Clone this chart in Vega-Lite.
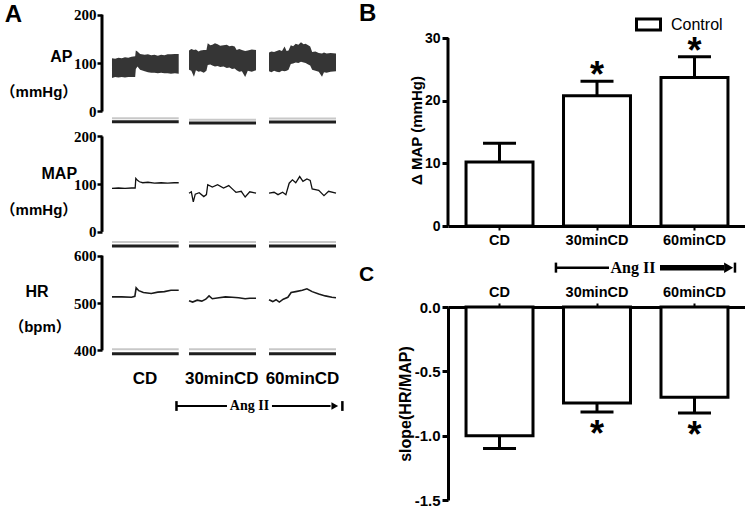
{
  "$schema": "https://vega.github.io/schema/vega-lite/v6.json",
  "background": "white",
  "padding": {"left": 0, "top": 2, "right": 0, "bottom": 0},
  "config": {
    "view": {"stroke": null},
    "font": "Liberation Sans",
    "axis": {"grid": false, "domainColor": "black", "tickColor": "black", "labelColor": "black", "titleColor": "black", "labelFontWeight": "bold", "titleFontWeight": "bold"}
  },
  "datasets": {
    "ap": [
      {"seg": 1, "t": 1.52, "lo": 69, "hi": 110}, {"seg": 1, "t": 2.0, "lo": 71, "hi": 109}, {"seg": 1, "t": 2.5, "lo": 70, "hi": 111}, {"seg": 1, "t": 3.0, "lo": 71, "hi": 110}, {"seg": 1, "t": 3.5, "lo": 70, "hi": 112}, {"seg": 1, "t": 4.0, "lo": 71, "hi": 111}, {"seg": 1, "t": 4.5, "lo": 71, "hi": 113}, {"seg": 1, "t": 5.05, "lo": 71, "hi": 114}, {"seg": 1, "t": 5.15, "lo": 88, "hi": 126}, {"seg": 1, "t": 5.4, "lo": 93, "hi": 124}, {"seg": 1, "t": 5.8, "lo": 86, "hi": 119}, {"seg": 1, "t": 6.5, "lo": 83, "hi": 117}, {"seg": 1, "t": 7.0, "lo": 81, "hi": 118}, {"seg": 1, "t": 7.5, "lo": 80, "hi": 116}, {"seg": 1, "t": 8.0, "lo": 80, "hi": 117}, {"seg": 1, "t": 8.5, "lo": 79, "hi": 115}, {"seg": 1, "t": 9.0, "lo": 80, "hi": 117}, {"seg": 1, "t": 9.5, "lo": 79, "hi": 116}, {"seg": 1, "t": 10.0, "lo": 79, "hi": 118}, {"seg": 1, "t": 10.5, "lo": 78, "hi": 118}, {"seg": 1, "t": 11.1, "lo": 79, "hi": 119}, {"seg": 1, "t": 11.68, "lo": 78, "hi": 119},
      {"seg": 2, "t": 13.25, "lo": 86, "hi": 126}, {"seg": 2, "t": 13.6, "lo": 84, "hi": 129}, {"seg": 2, "t": 14.0, "lo": 72, "hi": 127}, {"seg": 2, "t": 14.3, "lo": 85, "hi": 128}, {"seg": 2, "t": 14.7, "lo": 82, "hi": 124}, {"seg": 2, "t": 15.0, "lo": 83, "hi": 126}, {"seg": 2, "t": 15.5, "lo": 80, "hi": 127}, {"seg": 2, "t": 15.9, "lo": 84, "hi": 127}, {"seg": 2, "t": 16.1, "lo": 96, "hi": 141}, {"seg": 2, "t": 16.5, "lo": 97, "hi": 137}, {"seg": 2, "t": 16.8, "lo": 95, "hi": 138}, {"seg": 2, "t": 17.2, "lo": 93, "hi": 141}, {"seg": 2, "t": 17.6, "lo": 94, "hi": 139}, {"seg": 2, "t": 18.0, "lo": 92, "hi": 136}, {"seg": 2, "t": 18.5, "lo": 93, "hi": 137}, {"seg": 2, "t": 19.0, "lo": 90, "hi": 138}, {"seg": 2, "t": 19.4, "lo": 91, "hi": 135}, {"seg": 2, "t": 19.8, "lo": 88, "hi": 136}, {"seg": 2, "t": 20.2, "lo": 89, "hi": 134}, {"seg": 2, "t": 20.5, "lo": 85, "hi": 127}, {"seg": 2, "t": 20.9, "lo": 82, "hi": 129}, {"seg": 2, "t": 21.3, "lo": 83, "hi": 127}, {"seg": 2, "t": 21.8, "lo": 71, "hi": 125}, {"seg": 2, "t": 22.2, "lo": 84, "hi": 126}, {"seg": 2, "t": 22.8, "lo": 82, "hi": 128}, {"seg": 2, "t": 23.45, "lo": 85, "hi": 127},
      {"seg": 3, "t": 25.43, "lo": 83, "hi": 122}, {"seg": 3, "t": 25.8, "lo": 81, "hi": 124}, {"seg": 3, "t": 26.2, "lo": 84, "hi": 123}, {"seg": 3, "t": 26.6, "lo": 82, "hi": 125}, {"seg": 3, "t": 27.0, "lo": 81, "hi": 127}, {"seg": 3, "t": 27.4, "lo": 84, "hi": 125}, {"seg": 3, "t": 27.8, "lo": 83, "hi": 134}, {"seg": 3, "t": 28.1, "lo": 84, "hi": 125}, {"seg": 3, "t": 28.4, "lo": 86, "hi": 126}, {"seg": 3, "t": 28.75, "lo": 98, "hi": 137}, {"seg": 3, "t": 29.1, "lo": 99, "hi": 135}, {"seg": 3, "t": 29.5, "lo": 101, "hi": 140}, {"seg": 3, "t": 29.9, "lo": 100, "hi": 138}, {"seg": 3, "t": 30.3, "lo": 103, "hi": 143}, {"seg": 3, "t": 30.7, "lo": 101, "hi": 139}, {"seg": 3, "t": 31.0, "lo": 100, "hi": 140}, {"seg": 3, "t": 31.4, "lo": 97, "hi": 137}, {"seg": 3, "t": 31.7, "lo": 95, "hi": 134}, {"seg": 3, "t": 32.0, "lo": 86, "hi": 123}, {"seg": 3, "t": 32.5, "lo": 84, "hi": 124}, {"seg": 3, "t": 33.0, "lo": 82, "hi": 121}, {"seg": 3, "t": 33.5, "lo": 72, "hi": 120}, {"seg": 3, "t": 33.8, "lo": 81, "hi": 122}, {"seg": 3, "t": 34.2, "lo": 80, "hi": 120}, {"seg": 3, "t": 34.8, "lo": 82, "hi": 121}, {"seg": 3, "t": 35.63, "lo": 83, "hi": 120}
    ],
    "map": [
      {"seg": 1, "t": 1.52, "v": 91}, {"seg": 1, "t": 2.5, "v": 92}, {"seg": 1, "t": 3.5, "v": 91}, {"seg": 1, "t": 4.5, "v": 92}, {"seg": 1, "t": 5.05, "v": 92}, {"seg": 1, "t": 5.15, "v": 112}, {"seg": 1, "t": 5.4, "v": 108}, {"seg": 1, "t": 5.7, "v": 105}, {"seg": 1, "t": 6.2, "v": 103}, {"seg": 1, "t": 7.0, "v": 104}, {"seg": 1, "t": 8.0, "v": 102}, {"seg": 1, "t": 9.0, "v": 103}, {"seg": 1, "t": 10.0, "v": 102}, {"seg": 1, "t": 11.0, "v": 103}, {"seg": 1, "t": 11.68, "v": 103},
      {"seg": 2, "t": 13.25, "v": 81}, {"seg": 2, "t": 13.6, "v": 84}, {"seg": 2, "t": 13.9, "v": 63}, {"seg": 2, "t": 14.2, "v": 79}, {"seg": 2, "t": 14.8, "v": 82}, {"seg": 2, "t": 15.5, "v": 74}, {"seg": 2, "t": 15.9, "v": 78}, {"seg": 2, "t": 16.1, "v": 99}, {"seg": 2, "t": 16.8, "v": 94}, {"seg": 2, "t": 17.6, "v": 99}, {"seg": 2, "t": 18.5, "v": 92}, {"seg": 2, "t": 19.3, "v": 97}, {"seg": 2, "t": 20.0, "v": 88}, {"seg": 2, "t": 20.4, "v": 83}, {"seg": 2, "t": 21.2, "v": 85}, {"seg": 2, "t": 21.8, "v": 73}, {"seg": 2, "t": 22.5, "v": 84}, {"seg": 2, "t": 23.45, "v": 81},
      {"seg": 3, "t": 25.43, "v": 81}, {"seg": 3, "t": 26.2, "v": 83}, {"seg": 3, "t": 26.8, "v": 78}, {"seg": 3, "t": 27.5, "v": 83}, {"seg": 3, "t": 28.0, "v": 78}, {"seg": 3, "t": 28.5, "v": 102}, {"seg": 3, "t": 29.0, "v": 109}, {"seg": 3, "t": 29.5, "v": 103}, {"seg": 3, "t": 30.1, "v": 116}, {"seg": 3, "t": 30.6, "v": 106}, {"seg": 3, "t": 31.2, "v": 111}, {"seg": 3, "t": 31.7, "v": 108}, {"seg": 3, "t": 32.0, "v": 90}, {"seg": 3, "t": 33.0, "v": 87}, {"seg": 3, "t": 33.8, "v": 76}, {"seg": 3, "t": 34.5, "v": 85}, {"seg": 3, "t": 35.63, "v": 81}
    ],
    "hr": [
      {"seg": 1, "t": 1.52, "v": 513}, {"seg": 1, "t": 3.0, "v": 513}, {"seg": 1, "t": 4.5, "v": 512}, {"seg": 1, "t": 5.0, "v": 514}, {"seg": 1, "t": 5.2, "v": 532}, {"seg": 1, "t": 5.6, "v": 526}, {"seg": 1, "t": 6.3, "v": 522}, {"seg": 1, "t": 7.5, "v": 520}, {"seg": 1, "t": 8.5, "v": 523}, {"seg": 1, "t": 9.5, "v": 524}, {"seg": 1, "t": 10.5, "v": 527}, {"seg": 1, "t": 11.68, "v": 527},
      {"seg": 2, "t": 13.25, "v": 505}, {"seg": 2, "t": 13.8, "v": 502}, {"seg": 2, "t": 14.5, "v": 506}, {"seg": 2, "t": 15.2, "v": 504}, {"seg": 2, "t": 15.8, "v": 508}, {"seg": 2, "t": 16.3, "v": 515}, {"seg": 2, "t": 16.8, "v": 509}, {"seg": 2, "t": 17.8, "v": 511}, {"seg": 2, "t": 18.8, "v": 513}, {"seg": 2, "t": 19.8, "v": 512}, {"seg": 2, "t": 20.8, "v": 511}, {"seg": 2, "t": 21.8, "v": 509}, {"seg": 2, "t": 22.5, "v": 510}, {"seg": 2, "t": 23.45, "v": 510},
      {"seg": 3, "t": 25.43, "v": 507}, {"seg": 3, "t": 26.0, "v": 503}, {"seg": 3, "t": 26.5, "v": 507}, {"seg": 3, "t": 27.0, "v": 502}, {"seg": 3, "t": 27.6, "v": 508}, {"seg": 3, "t": 28.3, "v": 512}, {"seg": 3, "t": 28.8, "v": 522}, {"seg": 3, "t": 29.5, "v": 524}, {"seg": 3, "t": 30.5, "v": 527}, {"seg": 3, "t": 31.2, "v": 530}, {"seg": 3, "t": 32.0, "v": 524}, {"seg": 3, "t": 33.0, "v": 519}, {"seg": 3, "t": 34.0, "v": 515}, {"seg": 3, "t": 35.0, "v": 512}, {"seg": 3, "t": 35.63, "v": 511}
    ],
    "base": [
      {"panel": "AP", "seg": 1, "t0": 1.52, "t1": 11.68, "level": -14, "kind": "gray"}, {"panel": "AP", "seg": 1, "t0": 1.52, "t1": 11.68, "level": -21, "kind": "black"},
      {"panel": "AP", "seg": 2, "t0": 13.25, "t1": 23.45, "level": -17, "kind": "gray"}, {"panel": "AP", "seg": 2, "t0": 13.25, "t1": 23.45, "level": -24, "kind": "black"},
      {"panel": "AP", "seg": 3, "t0": 25.43, "t1": 35.63, "level": -14.5, "kind": "gray"}, {"panel": "AP", "seg": 3, "t0": 25.43, "t1": 35.63, "level": -21.5, "kind": "black"},
      {"panel": "MAP", "seg": 1, "t0": 1.52, "t1": 11.68, "level": -21.3, "kind": "gray"}, {"panel": "MAP", "seg": 1, "t0": 1.52, "t1": 11.68, "level": -29.7, "kind": "black"},
      {"panel": "MAP", "seg": 2, "t0": 13.25, "t1": 23.45, "level": -21.3, "kind": "gray"}, {"panel": "MAP", "seg": 2, "t0": 13.25, "t1": 23.45, "level": -29.7, "kind": "black"},
      {"panel": "MAP", "seg": 3, "t0": 25.43, "t1": 35.63, "level": -21.3, "kind": "gray"}, {"panel": "MAP", "seg": 3, "t0": 25.43, "t1": 35.63, "level": -29.7, "kind": "black"},
      {"panel": "HR", "seg": 1, "t0": 1.52, "t1": 11.68, "level": 402.5, "kind": "gray"}, {"panel": "HR", "seg": 1, "t0": 1.52, "t1": 11.68, "level": 393, "kind": "black"},
      {"panel": "HR", "seg": 2, "t0": 13.25, "t1": 23.45, "level": 402.5, "kind": "gray"}, {"panel": "HR", "seg": 2, "t0": 13.25, "t1": 23.45, "level": 393, "kind": "black"},
      {"panel": "HR", "seg": 3, "t0": 25.43, "t1": 35.63, "level": 402.5, "kind": "gray"}, {"panel": "HR", "seg": 3, "t0": 25.43, "t1": 35.63, "level": 393, "kind": "black"}
    ],
    "bars": [
      {"cond": "CD", "dmap": 10.2, "dmap_up": 13.2, "dmap_sig": "", "slope": -1.0, "slope_low": -1.1, "slope_sig": ""},
      {"cond": "30minCD", "dmap": 20.8, "dmap_up": 23.1, "dmap_sig": "*", "slope": -0.746, "slope_low": -0.816, "slope_sig": "*"},
      {"cond": "60minCD", "dmap": 23.7, "dmap_up": 27.0, "dmap_sig": "*", "slope": -0.702, "slope_low": -0.824, "slope_sig": "*"}
    ]
  },
  "spacing": 13,
  "resolve": {"scale": {"x": "independent", "y": "independent"}, "legend": {"fill": "independent"}},
  "hconcat": [
    {
      "spacing": 0,
      "bounds": "flush",
      "resolve": {"scale": {"x": "independent", "y": "independent"}},
      "vconcat": [
        {
          "width": 243, "height": 121,
          "layer": [
            {"data": {"name": "ap"}, "mark": {"type": "area", "color": "#353535"},
             "encoding": {
               "x": {"field": "t", "type": "quantitative", "scale": {"domain": [0, 37], "nice": false, "zero": false}, "axis": null},
               "y": {"field": "lo", "type": "quantitative", "scale": {"domain": [-30, 220], "nice": false, "zero": false},
                     "axis": {"values": [0, 100, 200], "domain": false, "tickSize": 5, "tickWidth": 2.5, "labelFont": "Liberation Sans Narrow", "labelFontSize": 15, "labelPadding": 1, "title": null}},
               "y2": {"field": "hi"},
               "detail": {"field": "seg", "type": "nominal"}
             }},
            {"data": {"name": "base"}, "transform": [{"filter": "datum.panel == 'AP' && datum.kind == 'gray'"}], "mark": {"type": "rule", "color": "#c8c8c8", "strokeWidth": 2},
             "encoding": {"x": {"field": "t0", "type": "quantitative"}, "x2": {"field": "t1"}, "y": {"field": "level", "type": "quantitative"}}},
            {"data": {"name": "base"}, "transform": [{"filter": "datum.panel == 'AP' && datum.kind == 'black'"}], "mark": {"type": "rule", "color": "#1e1e1e", "strokeWidth": 3},
             "encoding": {"x": {"field": "t0", "type": "quantitative"}, "x2": {"field": "t1"}, "y": {"field": "level", "type": "quantitative"}}},
            {"data": {"values": [{}]}, "mark": {"type": "rule", "color": "black", "strokeWidth": 3},
             "encoding": {"x": {"datum": 0, "type": "quantitative"}, "y": {"datum": 0, "type": "quantitative"}, "y2": {"datum": 200}}},
            {"data": {"values": [{}]}, "mark": {"type": "text", "text": "A", "fontSize": 24, "fontWeight": "bold", "align": "left", "baseline": "middle", "color": "black"},
             "encoding": {"x": {"datum": -14.8, "type": "quantitative"}, "y": {"datum": 198.5, "type": "quantitative"}}},
            {"data": {"values": [{}]}, "mark": {"type": "text", "text": "AP", "fontSize": 16, "fontWeight": "bold", "align": "center", "baseline": "middle", "color": "black"},
             "encoding": {"x": {"datum": -6.2, "type": "quantitative"}, "y": {"datum": 112.6, "type": "quantitative"}}},
            {"data": {"values": [{}]}, "mark": {"type": "text", "text": "（mmHg）", "font": "Liberation Sans, Noto Sans CJK SC", "fontSize": 15, "fontWeight": "bold", "align": "center", "baseline": "middle", "color": "black"},
             "encoding": {"x": {"datum": -9.6, "type": "quantitative"}, "y": {"datum": 40.2, "type": "quantitative"}}}
          ]
        },
        {
          "width": 243, "height": 123,
          "layer": [
            {"data": {"name": "map"}, "mark": {"type": "line", "color": "#111", "strokeWidth": 1.3},
             "encoding": {
               "x": {"field": "t", "type": "quantitative", "scale": {"domain": [0, 37], "nice": false, "zero": false}, "axis": null},
               "y": {"field": "v", "type": "quantitative", "scale": {"domain": [-36, 222], "nice": false, "zero": false},
                     "axis": {"values": [0, 100, 200], "domain": false, "tickSize": 5, "tickWidth": 2.5, "labelFont": "Liberation Sans Narrow", "labelFontSize": 15, "labelPadding": 1, "title": null}},
               "detail": {"field": "seg", "type": "nominal"}
             }},
            {"data": {"name": "base"}, "transform": [{"filter": "datum.panel == 'MAP' && datum.kind == 'gray'"}], "mark": {"type": "rule", "color": "#c8c8c8", "strokeWidth": 2},
             "encoding": {"x": {"field": "t0", "type": "quantitative"}, "x2": {"field": "t1"}, "y": {"field": "level", "type": "quantitative"}}},
            {"data": {"name": "base"}, "transform": [{"filter": "datum.panel == 'MAP' && datum.kind == 'black'"}], "mark": {"type": "rule", "color": "#1e1e1e", "strokeWidth": 3},
             "encoding": {"x": {"field": "t0", "type": "quantitative"}, "x2": {"field": "t1"}, "y": {"field": "level", "type": "quantitative"}}},
            {"data": {"values": [{}]}, "mark": {"type": "rule", "color": "black", "strokeWidth": 3},
             "encoding": {"x": {"datum": 0, "type": "quantitative"}, "y": {"datum": 0, "type": "quantitative"}, "y2": {"datum": 200}}},
            {"data": {"values": [{}]}, "mark": {"type": "text", "text": "MAP", "fontSize": 16, "fontWeight": "bold", "align": "center", "baseline": "middle", "color": "black"},
             "encoding": {"x": {"datum": -6.5, "type": "quantitative"}, "y": {"datum": 121, "type": "quantitative"}}},
            {"data": {"values": [{}]}, "mark": {"type": "text", "text": "（mmHg）", "font": "Liberation Sans, Noto Sans CJK SC", "fontSize": 15, "fontWeight": "bold", "align": "center", "baseline": "middle", "color": "black"},
             "encoding": {"x": {"datum": -9.6, "type": "quantitative"}, "y": {"datum": 45.8, "type": "quantitative"}}}
          ]
        },
        {
          "width": 243, "height": 108,
          "layer": [
            {"data": {"name": "hr"}, "mark": {"type": "line", "color": "#1a1a1a", "strokeWidth": 1.6},
             "encoding": {
               "x": {"field": "t", "type": "quantitative", "scale": {"domain": [0, 37], "nice": false, "zero": false},
                     "axis": {"values": [6.47, 18.16, 30.45], "labelExpr": "datum.value < 10 ? 'CD' : datum.value < 25 ? '30minCD' : '60minCD'", "domain": false, "ticks": false, "tickSize": 0, "labelPadding": 13, "labelFontSize": 17, "labelFlush": false, "labelOverlap": false, "labelBound": false, "title": null}},
               "y": {"field": "v", "type": "quantitative", "scale": {"domain": [386, 614], "nice": false, "zero": false},
                     "axis": {"values": [400, 500, 600], "domain": false, "tickSize": 5, "tickWidth": 2.5, "labelFont": "Liberation Sans Narrow", "labelFontSize": 15, "labelPadding": 1, "title": null}},
               "detail": {"field": "seg", "type": "nominal"}
             }},
            {"data": {"name": "base"}, "transform": [{"filter": "datum.panel == 'HR' && datum.kind == 'gray'"}], "mark": {"type": "rule", "color": "#c8c8c8", "strokeWidth": 2},
             "encoding": {"x": {"field": "t0", "type": "quantitative"}, "x2": {"field": "t1"}, "y": {"field": "level", "type": "quantitative"}}},
            {"data": {"name": "base"}, "transform": [{"filter": "datum.panel == 'HR' && datum.kind == 'black'"}], "mark": {"type": "rule", "color": "#1e1e1e", "strokeWidth": 3},
             "encoding": {"x": {"field": "t0", "type": "quantitative"}, "x2": {"field": "t1"}, "y": {"field": "level", "type": "quantitative"}}},
            {"data": {"values": [{}]}, "mark": {"type": "rule", "color": "black", "strokeWidth": 3},
             "encoding": {"x": {"datum": 0, "type": "quantitative"}, "y": {"datum": 400, "type": "quantitative"}, "y2": {"datum": 600}}},
            {"data": {"values": [{}]}, "mark": {"type": "text", "text": "HR", "fontSize": 16, "fontWeight": "bold", "align": "center", "baseline": "middle", "color": "black"},
             "encoding": {"x": {"datum": -9.9, "type": "quantitative"}, "y": {"datum": 523.2, "type": "quantitative"}}},
            {"data": {"values": [{}]}, "mark": {"type": "text", "text": "（bpm）", "font": "Liberation Sans, Noto Sans CJK SC", "fontSize": 15, "fontWeight": "bold", "align": "center", "baseline": "middle", "color": "black"},
             "encoding": {"x": {"datum": -9.44, "type": "quantitative"}, "y": {"datum": 449.3, "type": "quantitative"}}}
          ]
        },
        {
          "width": 243, "height": 98,
          "data": {"values": [{}]},
          "layer": [
            {"mark": {"type": "rule", "color": "black", "strokeWidth": 2},
             "encoding": {"x": {"datum": 11.42, "type": "quantitative", "scale": {"domain": [0, 37], "nice": false, "zero": false}, "axis": null}, "x2": {"datum": 19.03}, "y": {"datum": 0, "type": "quantitative", "scale": {"domain": [-1, 1], "nice": false, "zero": false}, "axis": null}}},
            {"mark": {"type": "rule", "color": "black", "strokeWidth": 2},
             "encoding": {"x": {"datum": 25.88, "type": "quantitative"}, "x2": {"datum": 34.8}, "y": {"datum": 0, "type": "quantitative"}}},
            {"mark": {"type": "rule", "color": "black", "strokeWidth": 2.5},
             "encoding": {"x": {"datum": 11.34, "type": "quantitative"}, "y": {"datum": -0.1, "type": "quantitative"}, "y2": {"datum": 0.1}}},
            {"mark": {"type": "rule", "color": "black", "strokeWidth": 2.5},
             "encoding": {"x": {"datum": 36.6, "type": "quantitative"}, "y": {"datum": -0.1, "type": "quantitative"}, "y2": {"datum": 0.1}}},
            {"mark": {"type": "point", "shape": "triangle-right", "filled": true, "color": "black", "size": 60, "opacity": 1},
             "encoding": {"x": {"datum": 35.45, "type": "quantitative"}, "y": {"datum": 0, "type": "quantitative"}}},
            {"mark": {"type": "text", "text": "Ang II", "font": "Liberation Serif", "fontWeight": "bold", "fontSize": 14, "baseline": "middle", "align": "center", "color": "black"},
             "encoding": {"x": {"datum": 22.45, "type": "quantitative"}, "y": {"datum": 0, "type": "quantitative"}}}
          ]
        }
      ]
    },
    {
      "spacing": 81,
      "bounds": "flush",
      "resolve": {"scale": {"x": "independent", "y": "independent"}, "legend": {"fill": "independent"}},
      "vconcat": [
        {
          "width": 298, "height": 221,
          "resolve": {"scale": {"x": "independent"}},
          "layer": [
            {
              "data": {"name": "bars"},
              "layer": [
                {"mark": {"type": "bar", "stroke": "black", "strokeWidth": 3},
                 "encoding": {
                   "x": {"field": "cond", "type": "nominal", "sort": null, "scale": {"paddingInner": 0.313, "paddingOuter": 0.185},
                         "axis": {"title": null, "labelAngle": 0, "labelFontSize": 14.5, "tickSize": 4, "tickWidth": 2, "domainWidth": 3, "labelPadding": 3}},
                   "y": {"field": "dmap", "type": "quantitative", "scale": {"domain": [0, 35.27], "nice": false, "zero": false},
                         "axis": {"values": [0, 10, 20, 30], "domain": false, "title": "Δ MAP (mmHg)", "titleFontSize": 15, "titleY": 125, "labelFontSize": 14, "tickSize": 6, "tickWidth": 3, "labelPadding": 2, "titlePadding": 0}},
                   "fill": {"datum": "Control", "type": "nominal", "scale": {"range": ["white"]},
                            "legend": {"title": null, "orient": "none", "legendX": 187, "legendY": 6, "padding": 0, "symbolType": "M-1,-0.46H1V0.46H-1Z", "symbolSize": 576, "symbolStrokeColor": "black", "symbolStrokeWidth": 3, "symbolFillColor": "white", "labelFontSize": 16, "labelFont": "Liberation Sans", "labelColor": "black", "labelOffset": 9}}
                 }},
                {"mark": {"type": "rule", "color": "black", "strokeWidth": 3},
                 "encoding": {"x": {"field": "cond", "type": "nominal", "sort": null}, "y": {"field": "dmap", "type": "quantitative"}, "y2": {"field": "dmap_up"}}},
                {"mark": {"type": "tick", "color": "black", "thickness": 3, "size": 33, "opacity": 1},
                 "encoding": {"x": {"field": "cond", "type": "nominal", "sort": null}, "y": {"field": "dmap_up", "type": "quantitative"}}},
                {"mark": {"type": "text", "fontSize": 36, "fontWeight": "bold", "baseline": "alphabetic", "dy": 6, "color": "black"},
                 "encoding": {"x": {"field": "cond", "type": "nominal", "sort": null}, "y": {"field": "dmap_up", "type": "quantitative"}, "text": {"field": "dmap_sig"}}}
              ]
            },
            {
              "data": {"values": [{}]},
              "layer": [
                {"mark": {"type": "text", "text": "B", "fontSize": 24, "fontWeight": "bold", "align": "left", "baseline": "middle", "color": "black"},
                 "encoding": {"x": {"datum": -1.446, "type": "quantitative", "scale": {"domain": [-0.533, 2.523], "nice": false, "zero": false}, "axis": null}, "y": {"datum": 33.83, "type": "quantitative"}}},
                {"mark": {"type": "rule", "color": "black", "strokeWidth": 3},
                 "encoding": {"x": {"datum": -0.533, "type": "quantitative"}, "y": {"datum": 0, "type": "quantitative"}, "y2": {"datum": 30}}}
              ]
            }
          ]
        },
        {
          "width": 298, "height": 193,
          "resolve": {"scale": {"x": "independent"}},
          "layer": [
            {
              "data": {"name": "bars"},
              "layer": [
                {"mark": {"type": "bar", "stroke": "black", "strokeWidth": 3, "fill": "white"},
                 "encoding": {
                   "x": {"field": "cond", "type": "nominal", "sort": null, "scale": {"paddingInner": 0.313, "paddingOuter": 0.185},
                         "axis": {"title": null, "orient": "top", "labelAngle": 0, "labelFontSize": 14.5, "tickSize": 4, "tickWidth": 2, "domainWidth": 3, "labelPadding": 4}},
                   "y": {"field": "slope", "type": "quantitative", "scale": {"domain": [-1.5, 0], "nice": false, "zero": false},
                         "axis": {"values": [0, -0.5, -1, -1.5], "labelExpr": "datum.value == 0 ? '0.0' : '-' + format(-datum.value, '.1f')", "title": "slope(HR/MAP)", "titleFontSize": 16, "labelFontSize": 15, "tickSize": 6, "tickWidth": 3, "domainWidth": 3, "labelPadding": 2, "titlePadding": 1}}
                 }},
                {"mark": {"type": "rule", "color": "black", "strokeWidth": 3},
                 "encoding": {"x": {"field": "cond", "type": "nominal", "sort": null}, "y": {"field": "slope", "type": "quantitative"}, "y2": {"field": "slope_low"}}},
                {"mark": {"type": "tick", "color": "black", "thickness": 3, "size": 33, "opacity": 1},
                 "encoding": {"x": {"field": "cond", "type": "nominal", "sort": null}, "y": {"field": "slope_low", "type": "quantitative"}}},
                {"mark": {"type": "text", "fontSize": 36, "fontWeight": "bold", "baseline": "alphabetic", "dy": 34, "color": "black"},
                 "encoding": {"x": {"field": "cond", "type": "nominal", "sort": null}, "y": {"field": "slope_low", "type": "quantitative"}, "text": {"field": "slope_sig"}}}
              ]
            },
            {
              "data": {"values": [{}]},
              "layer": [
                {"mark": {"type": "text", "text": "C", "fontSize": 21, "fontWeight": "bold", "align": "left", "baseline": "middle", "color": "black"},
                 "encoding": {"x": {"datum": -1.446, "type": "quantitative", "scale": {"domain": [-0.533, 2.523], "nice": false, "zero": false}, "axis": null}, "y": {"datum": 0.251, "type": "quantitative"}}},
                {"mark": {"type": "rule", "color": "black", "strokeWidth": 2.3},
                 "encoding": {"x": {"datum": 0.574, "type": "quantitative"}, "x2": {"datum": 1.118}, "y": {"datum": 0.305, "type": "quantitative"}}},
                {"mark": {"type": "rule", "color": "black", "strokeWidth": 5.5},
                 "encoding": {"x": {"datum": 1.641, "type": "quantitative"}, "x2": {"datum": 2.30}, "y": {"datum": 0.305, "type": "quantitative"}}},
                {"mark": {"type": "rule", "color": "black", "strokeWidth": 2.5},
                 "encoding": {"x": {"datum": 0.574, "type": "quantitative"}, "y": {"datum": 0.267, "type": "quantitative"}, "y2": {"datum": 0.345}}},
                {"mark": {"type": "rule", "color": "black", "strokeWidth": 2.5},
                 "encoding": {"x": {"datum": 2.41, "type": "quantitative"}, "y": {"datum": 0.267, "type": "quantitative"}, "y2": {"datum": 0.345}}},
                {"mark": {"type": "point", "shape": "triangle-right", "filled": true, "color": "black", "size": 110, "opacity": 1},
                 "encoding": {"x": {"datum": 2.345, "type": "quantitative"}, "y": {"datum": 0.305, "type": "quantitative"}}},
                {"mark": {"type": "text", "text": "Ang II", "font": "Liberation Serif", "fontWeight": "bold", "fontSize": 16, "baseline": "middle", "align": "center", "color": "black"},
                 "encoding": {"x": {"datum": 1.364, "type": "quantitative"}, "y": {"datum": 0.305, "type": "quantitative"}}}
              ]
            }
          ]
        }
      ]
    }
  ]
}
